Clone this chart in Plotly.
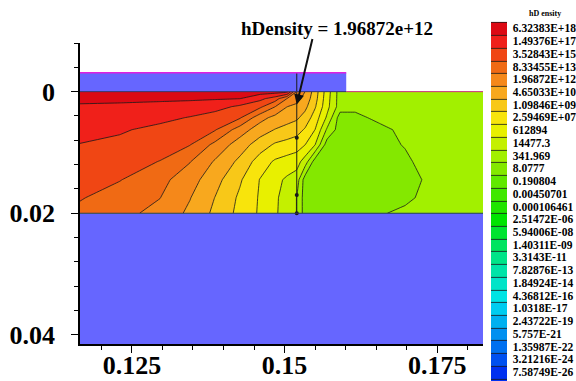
import math
import plotly.graph_objects as go

# ---------------- data ----------------
x_nodes = [0.1165, 0.12303, 0.12959, 0.13451, 0.13861, 0.14270, 0.14598, 0.14844,
           0.15041, 0.1520, 0.15336, 0.15500, 0.15697, 0.15910, 0.16156, 0.16566,
           0.16975, 0.17303, 0.17631, 0.1825]
y_nodes = [0.0, 0.00115, 0.00247, 0.00428, 0.00626, 0.00872, 0.01152, 0.01449, 0.01745, 0.0200]

# hole density expressed as legend band index (0 = 6.32383E+18 band, 1 = next band ...)
band_index = [
    [0.00, 0.00, 0.00, 0.00, 0.00, 0.00, 0.02, 0.05, 0.20, 3.60, 4.50, 6.00, 8.00, 10, 10, 10, 10, 10, 10, 10],
    [0.32, 0.34, 0.36, 0.38, 0.42, 0.49, 1.24, 1.99, 3.52, 4.17, 4.84, 6.13, 8.09, 10, 10, 10, 10, 10, 10, 10],
    [0.60, 0.64, 0.74, 0.86, 1.11, 1.70, 2.28, 3.48, 4.49, 4.72, 5.24, 6.40, 8.19, 10, 10, 10, 10, 10, 10, 10],
    [0.88, 1.00, 1.22, 1.56, 1.98, 2.40, 4.12, 4.81, 5.09, 5.33, 5.88, 6.96, 8.67, 11, 11, 10, 10, 10, 10, 10],
    [1.18, 1.38, 1.78, 2.13, 2.42, 3.99, 5.03, 5.54, 5.84, 6.10, 6.61, 7.51, 9.66, 11, 11, 11, 10, 10, 10, 10],
    [1.53, 1.74, 2.06, 2.46, 3.76, 5.01, 5.98, 6.63, 6.85, 7.03, 7.48, 8.48, 11, 11, 11, 11, 10.4, 10, 10, 10],
    [1.82, 2.09, 2.53, 3.46, 4.61, 5.74, 6.98, 7.64, 7.89, 8.10, 8.98, 11, 11, 11, 11, 11, 10.8, 10, 10, 10],
    [2.13, 2.46, 3.20, 4.08, 5.14, 6.38, 7.54, 8.21, 8.67, 8.98, 11, 11, 11, 11, 11, 11, 11, 10.4, 10, 10],
    [2.43, 2.94, 3.48, 4.46, 5.52, 6.68, 7.61, 8.32, 8.95, 9.52, 11, 11, 11, 11, 11, 11, 11, 10, 10, 10],
    [2.75, 3.19, 3.82, 4.70, 5.72, 6.79, 7.64, 8.36, 8.97, 9.52, 11, 11, 11, 11, 11, 10.7, 10, 10, 10, 10],
]

level_labels = ["6.32383E+18", "1.49376E+17", "3.52843E+15", "8.33455E+13", "1.96872E+12",
                "4.65033E+10", "1.09846E+09", "2.59469E+07", "612894", "14477.3", "341.969",
                "8.0777", "0.190804", "0.00450701", "0.000106461", "2.51472E-06", "5.94006E-08",
                "1.40311E-09", "3.3143E-11", "7.82876E-13", "1.84924E-14", "4.36812E-16",
                "1.0318E-17", "2.43722E-19", "5.757E-21", "1.35987E-22", "3.21216E-24",
                "7.58749E-26"]

band_colors = ["#DC0A14", "#F0201A", "#F04614", "#F06A14", "#F5881A", "#F8A81E", "#F8C818",
               "#F8E40C", "#E8F000", "#C4F000", "#A2F000", "#84E800", "#60E800", "#40E800",
               "#20E400", "#00E400", "#00E430", "#00E460", "#00E488", "#00E4A8", "#00E4C8",
               "#00E4E4", "#00CCF0", "#00B0F0", "#0090F0", "#0070F0", "#0050F0", "#0030F0"]

gate_x = [0.1165, 0.1601]
gate_y = [-0.0031, 0.0]
oxide_x = [0.1165, 0.1825]
oxide_y = [0.0200, 0.0415]
surface_x = [0.1601, 0.1825]
mesh_line_x = [0.1520, 0.1520]
mesh_line_y = [-0.0031, 0.0200]
dots_x = [0.1520, 0.1520, 0.1520]
dots_y = [0.0076, 0.0170, 0.0200]
arrow_target = [0.1520, 0.0021]
annotation_text = "hDensity = 1.96872e+12"

x_range = [0.1165, 0.1825]
y_range = [0.0415, -0.008]

# ---------------- derived ----------------
log_levels = [math.log10(float(s)) for s in level_labels]
LOG_TOP = log_levels[0]
STEP = (log_levels[0] - log_levels[-1]) / (len(log_levels) - 1)
z = [[LOG_TOP - u * STEP for u in row] for row in band_index]
n = len(band_colors)           # 28 legend bands
n_levels = n + 1               # boundaries between (and around) the bands
# fill colours: j=0 below lowest level, j=1..n legend bands (bottom->top), j=n+1 above top level
fill_seq = [band_colors[-1]] + band_colors[::-1] + ["rgba(255,255,255,0)"]
colorscale = [[j / n_levels, c] for j, c in enumerate(fill_seq)]

SERIF = "Liberation Serif"
PX_BAND = 356 / n

fig = go.Figure()
fig.add_trace(go.Contour(
    x=x_nodes, y=y_nodes, z=z,
    colorscale=colorscale,
    autocontour=False,
    contours=dict(start=LOG_TOP - (n - 0.5) * STEP, end=LOG_TOP + 0.5 * STEP, size=STEP,
                  coloring="fill", showlines=True),
    line=dict(color="#1a1a1a", width=0.8, smoothing=0),
    hoverinfo="skip",
    colorbar=dict(
        x=(491 - 80) / 403, xanchor="left", xpad=0,
        thickness=16, thicknessmode="pixels",
        len=PX_BAND * (n + 1), lenmode="pixels",
        y=(344 - (22 - PX_BAND / 2)) / 301, yanchor="top", ypad=0,
        tickvals=log_levels, ticktext=level_labels,
        ticks="outside", ticklen=4, tickcolor="rgba(0,0,0,0)",
        tickfont=dict(family=SERIF, size=11.5, color="black", weight="bold"),
        outlinewidth=0,
    ),
))

fig.add_trace(go.Scatter(x=mesh_line_x, y=mesh_line_y, mode="lines",
                         line=dict(color="#1a1a1a", width=1), hoverinfo="skip", showlegend=False))
fig.add_trace(go.Scatter(x=dots_x, y=dots_y, mode="markers",
                         marker=dict(color="#1a1a1a", size=4), hoverinfo="skip", showlegend=False))

shapes = [
    dict(type="rect", xref="x", yref="y", x0=gate_x[0], x1=gate_x[1], y0=gate_y[0], y1=gate_y[1],
         fillcolor="#6666FF", line=dict(width=0), layer="below"),
    dict(type="rect", xref="x", yref="y", x0=oxide_x[0], x1=oxide_x[1], y0=oxide_y[0], y1=oxide_y[1],
         fillcolor="#6666FF", line=dict(width=0), layer="below"),
    dict(type="line", xref="x", yref="y", x0=gate_x[0], x1=gate_x[1], y0=gate_y[0], y1=gate_y[0],
         line=dict(color="#E020E0", width=1.5)),
    dict(type="line", xref="x", yref="y", x0=gate_x[0], x1=gate_x[1], y0=gate_y[1], y1=gate_y[1],
         line=dict(color="#3a2a7a", width=1)),
    dict(type="line", xref="x", yref="y", x0=surface_x[0], x1=surface_x[1], y0=gate_y[1], y1=gate_y[1],
         line=dict(color="#E03080", width=1)),
    dict(type="line", xref="x", yref="y", x0=oxide_x[0], x1=oxide_x[1], y0=oxide_y[0], y1=oxide_y[0],
         line=dict(color="#333366", width=1)),
]

annotations = [
    dict(x=arrow_target[0], y=arrow_target[1], xref="x", yref="y", ax=16, ay=-67,
         text="", showarrow=True, arrowhead=2, arrowsize=1, arrowwidth=2, arrowcolor="#111111"),
    dict(x=(337 - 80) / 403, y=(344 - 28) / 301, xref="paper", yref="paper",
         text="<b>" + annotation_text + "</b>", showarrow=False,
         font=dict(family=SERIF, size=19, color="black"), xanchor="center", yanchor="middle"),
    dict(x=(545 - 80) / 403, y=(344 - 14) / 301, xref="paper", yref="paper",
         text="<b>hD ensity</b>", showarrow=False,
         font=dict(family=SERIF, size=8, color="black"), xanchor="center", yanchor="middle"),
]

axis_common = dict(showline=True, linecolor="black", linewidth=1.5, mirror=False,
                   ticks="outside", ticklen=7, tickwidth=1.3, tickcolor="black",
                   showgrid=False, zeroline=False,
                   tickfont=dict(family=SERIF, size=26, color="black", weight="bold"))

fig.update_layout(
    width=576, height=381,
    margin=dict(l=80, r=93, t=43, b=37, pad=0, autoexpand=False),
    paper_bgcolor="white", plot_bgcolor="white",
    showlegend=False,
    shapes=shapes, annotations=annotations,
    xaxis=dict(range=x_range, tick0=0, dtick=0.025, ticklabelstandoff=-10,
               minor=dict(dtick=0.005, ticks="outside", ticklen=4, tickwidth=1.2, tickcolor="black", showgrid=False),
               **axis_common),
    yaxis=dict(range=y_range, tick0=0, dtick=0.02, ticklabelstandoff=11,
               minor=dict(dtick=0.004, ticks="outside", ticklen=4, tickwidth=1.2, tickcolor="black", showgrid=False),
               **axis_common),
)

fig.write_html("out.html")
